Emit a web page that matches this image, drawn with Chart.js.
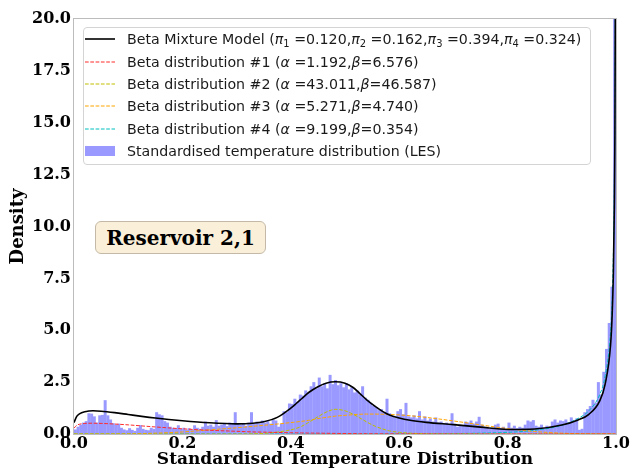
<!DOCTYPE html>
<html lang="en">
<head>
<meta charset="UTF-8">
<title>Beta Mixture Model - Reservoir 2,1</title>
<script src="https://cdn.jsdelivr.net/npm/chart.js"></script>
<style>
    body { margin: 0; background: #fff; }
    .wrap { position: relative; width: 634px; height: 472px; }
    .legend-box {
        position: absolute; left: 83px; top: 27px; width: 508px; height: 138px;
        box-sizing: border-box; border: 1px solid #d4d4d4; border-radius: 4px;
        background: rgba(255,255,255,0.85);
        font-family: "DejaVu Sans"; font-size: 14.2px; color: #1a1a1a;
    }
    .legend-row { display: flex; align-items: center; height: 22.4px; white-space: nowrap; }
    .handle { width: 30px; margin-left: 1px; margin-right: 12px; display: flex; align-items: center; justify-content: center; }
    .sb { font-size: 70%; position: relative; top: 3px; }
    .note {
        position: absolute; left: 95px; top: 221px; width: 171px; height: 33px;
        box-sizing: border-box; border: 1px solid #c4b9a6; border-radius: 6px;
        background: #faefd9; font: bold 20px "DejaVu Serif"; color: #000;
        display: flex; align-items: center; justify-content: center;
    }
</style>
</head>
<body>
<div class="wrap">
    <canvas id="chart" width="634" height="472"></canvas>
    <div id="legend" class="legend-box"></div>
    <div class="note">Reservoir 2,1</div>
</div>

<script>
// histogram: 200 bins of width 0.005 over [0, 1] (density)
const binWidth = 0.005;
const histDensity = [
    0.22, 0.35, 0.45, 0.55, 0.62, 1.00, 0.98, 0.85, 0.55, 0.90,
    0.92, 1.63, 0.90, 0.70, 0.52, 0.45, 0.50, 0.30, 0.22, 0.18,
    0.28, 0.20, 0.15, 0.30, 0.43, 0.25, 0.20, 0.18, 0.30, 0.25,
    1.05, 0.95, 0.90, 0.62, 0.55, 0.35, 0.30, 0.28, 0.42, 0.25,
    0.30, 0.20, 0.28, 0.22, 0.42, 0.30, 0.25, 0.35, 0.60, 0.40,
    0.45, 0.35, 0.67, 0.40, 0.45, 0.50, 0.38, 0.55, 0.48, 1.05,
    0.50, 0.45, 0.52, 0.40, 0.55, 1.05, 0.50, 0.60, 0.52, 0.65,
    0.55, 0.62, 0.50, 0.68, 0.65, 0.35, 0.50, 1.10, 1.05, 1.47,
    1.45, 1.70, 1.55, 1.90, 1.85, 2.10, 2.00, 2.30, 2.50, 2.20,
    2.72, 2.30, 2.45, 2.20, 2.85, 2.40, 2.60, 2.35, 2.45, 2.25,
    2.45, 2.15, 2.25, 2.00, 2.10, 1.90, 2.30, 1.75, 1.65, 1.50,
    1.35, 1.30, 1.15, 1.20, 1.05, 1.70, 1.00, 0.85, 0.80, 1.10,
    1.20, 0.95, 1.50, 0.85, 0.80, 0.90, 0.75, 1.10, 0.70, 0.85,
    0.65, 0.75, 0.60, 0.80, 0.55, 0.60, 0.50, 0.55, 0.45, 1.00,
    0.50, 0.35, 0.45, 0.40, 0.60, 0.55, 0.65, 0.50, 0.60, 0.83,
    0.45, 0.30, 0.35, 0.25, 0.30, 0.45, 0.50, 0.30, 0.35, 0.25,
    0.55, 0.30, 0.40, 0.28, 0.35, 0.30, 0.45, 0.65, 0.60, 0.67,
    0.40, 0.35, 0.45, 0.30, 0.40, 0.35, 0.60, 0.70, 0.55, 0.65,
    0.62, 0.70, 0.55, 0.80, 0.65, 0.75, 0.20, 0.25, 1.05, 1.20,
    1.35, 1.65, 1.50, 2.50, 1.90, 3.00, 4.10, 5.35, 7.10, 40.0
];

// fitted curves at these x positions
const curveX = [
    0, 0.005, 0.01, 0.02, 0.035, 0.05, 0.075, 0.1, 0.125, 0.15,
    0.2, 0.25, 0.3, 0.33, 0.35, 0.375, 0.4, 0.41, 0.42, 0.433,
    0.45, 0.465, 0.482, 0.5, 0.515, 0.527, 0.54, 0.557, 0.57, 0.582,
    0.6, 0.62, 0.65, 0.7, 0.75, 0.8, 0.85, 0.9, 0.93, 0.95,
    0.97, 0.98, 0.99, 0.993, 0.995, 0.997, 0.998, 0.999
];
const mixtureY = [
    0.55, 0.85, 0.97, 1.07, 1.12, 1.10, 1.03, 0.94, 0.85, 0.77,
    0.64, 0.54, 0.49, 0.52, 0.59, 0.80, 1.25, 1.47, 1.70, 2.00,
    2.28, 2.45, 2.52, 2.45, 2.24, 1.96, 1.65, 1.31, 1.08, 0.92,
    0.77, 0.66, 0.56, 0.45, 0.33, 0.22, 0.24, 0.43, 0.68, 0.95,
    1.60, 2.40, 4.30, 5.80, 7.60, 11.0, 14.5, 23.0
];
const beta1Y = [
    0.28, 0.42, 0.47, 0.51, 0.52, 0.51, 0.48, 0.44, 0.39, 0.34,
    0.25, 0.18, 0.13, 0.10, 0.09, 0.075, 0.06, 0.055, 0.05, 0.045,
    0.04, 0.035, 0.028, 0.022, 0.019, 0.016, 0.014, 0.011, 0.01, 0.008,
    0.007, 0.005, 0.004, 0.002, 0, 0, 0, 0, 0, 0,
    0, 0, 0, 0, 0, 0, 0, 0
];
const beta2Y = [
    0, 0, 0, 0, 0, 0, 0, 0, 0, 0,
    0, 0, 0, 0.01, 0.03, 0.09, 0.20, 0.27, 0.37, 0.56,
    0.83, 1.05, 1.19, 1.12, 0.95, 0.78, 0.58, 0.36, 0.24, 0.15,
    0.08, 0.04, 0.01, 0, 0, 0, 0, 0, 0, 0,
    0, 0, 0, 0, 0, 0, 0, 0
];
const beta3Y = [
    0, 0, 0, 0, 0.001, 0.002, 0.005, 0.01, 0.02, 0.04,
    0.10, 0.20, 0.30, 0.37, 0.42, 0.48, 0.55, 0.58, 0.61, 0.66,
    0.74, 0.80, 0.86, 0.90, 0.93, 0.95, 0.96, 0.96, 0.95, 0.94,
    0.92, 0.88, 0.80, 0.63, 0.44, 0.26, 0.12, 0.04, 0.015, 0.006,
    0.001, 0, 0, 0, 0, 0, 0, 0
];
const beta4Y = [
    0, 0, 0, 0, 0, 0, 0, 0, 0, 0,
    0, 0, 0, 0, 0, 0, 0, 0, 0, 0,
    0, 0, 0, 0, 0, 0, 0, 0, 0, 0,
    0, 0.005, 0.01, 0.02, 0.04, 0.08, 0.18, 0.42, 0.75, 1.12,
    1.90, 2.80, 4.90, 6.50, 8.50, 12.2, 16.0, 25.0
];

const xTicks = [0, 0.2, 0.4, 0.6, 0.8, 1.0];
const yTicks = [0, 2.5, 5, 7.5, 10, 12.5, 15, 17.5, 20];

const serifBold = (size) => ({ family: 'DejaVu Serif', weight: 'bold', size: size, lineHeight: 1.2 });

function pts(ys) {
    return curveX.map((x, i) => ({ x: x, y: ys[i] }));
}

function curve(label, ys, color, width, dash) {
    return {
        type: 'line', label: label, data: pts(ys),
        borderColor: color, borderWidth: width, borderDash: dash,
        pointRadius: 0, fill: false, cubicInterpolationMode: 'monotone', order: 1
    };
}

const datasets = [
    curve('Beta Mixture Model', mixtureY, '#000000', 1.6, []),
    curve('Beta distribution #1', beta1Y, '#ff2a2a', 1, [3.7, 1.6]),
    curve('Beta distribution #2', beta2Y, '#bfbf00', 1, [3.7, 1.6]),
    curve('Beta distribution #3', beta3Y, '#ffa500', 1, [3.7, 1.6]),
    curve('Beta distribution #4', beta4Y, '#00bfbf', 1, [3.7, 1.6]),
    {
        type: 'bar', label: 'Standardised temperature distribution (LES)',
        data: histDensity.map((d, i) => ({ x: (i + 0.5) * binWidth, y: d })),
        backgroundColor: '#9999ff', borderWidth: 0,
        barThickness: 3, inflateAmount: 0, order: 2
    }
];

// legend texts (matplotlib mathtext rendered as italic greek + subscripts)
const legendHtml = [
    'Beta Mixture Model (<i>π</i><span class="sb">1</span> =0.120,<i>π</i><span class="sb">2</span> =0.162,<i>π</i><span class="sb">3</span> =0.394,<i>π</i><span class="sb">4</span> =0.324)',
    'Beta distribution #1 (<i>α</i> =1.192,<i>β</i>=6.576)',
    'Beta distribution #2 (<i>α</i> =43.011,<i>β</i>=46.587)',
    'Beta distribution #3 (<i>α</i> =5.271,<i>β</i>=4.740)',
    'Beta distribution #4 (<i>α</i> =9.199,<i>β</i>=0.354)',
    'Standardised temperature distribution (LES)'
];

const legendEl = document.getElementById('legend');
datasets.forEach((ds, i) => {
    let row = document.createElement('div');
    row.className = 'legend-row';
    let handle = document.createElement('div');
    handle.className = 'handle';
    if (ds.type === 'bar') {
        handle.innerHTML = '<div style="width:30px;height:10px;background:' + ds.backgroundColor + '"></div>';
    } else {
        let dash = ds.borderDash.length ? ' stroke-dasharray="' + ds.borderDash.join(' ') + '"' : '';
        handle.innerHTML = '<svg width="30" height="4"><line x1="0" y1="2" x2="30" y2="2" stroke="' +
            ds.borderColor + '" stroke-width="' + ds.borderWidth + '"' + dash + '/></svg>';
    }
    row.appendChild(handle);
    let txt = document.createElement('span');
    txt.innerHTML = legendHtml[i];
    row.appendChild(txt);
    legendEl.appendChild(row);
});

// light grey frame like the axes spines
const framePlugin = {
    id: 'frame',
    beforeDatasetsDraw(chart) {
        const { ctx, chartArea: a } = chart;
        ctx.save();
        ctx.strokeStyle = '#bcbcbc';
        ctx.lineWidth = 1;
        ctx.strokeRect(Math.round(a.left) - 0.5, Math.round(a.top) - 0.5,
            Math.round(a.right - a.left) + 1, Math.round(a.bottom - a.top) + 1);
        ctx.restore();
    }
};

new Chart(document.getElementById('chart'), {
    type: 'bar',
    data: { datasets: datasets },
    plugins: [framePlugin],
    options: {
        responsive: false,
        animation: false,
        devicePixelRatio: 1,
        layout: { padding: { left: 0, top: 19, right: 18, bottom: 2 } },
        plugins: { legend: { display: false }, tooltip: { enabled: false } },
        scales: {
            x: {
                type: 'linear', min: 0, max: 1, offset: false,
                grid: { display: false, drawTicks: false },
                border: { display: false },
                afterBuildTicks: s => { s.ticks = xTicks.map(v => ({ value: v })); },
                afterFit: s => { s.height = 36; },
                ticks: {
                    padding: 0, color: '#000', maxRotation: 0, autoSkip: false,
                    font: serifBold(16),
                    callback: v => Number(v).toFixed(1)
                },
                title: {
                    display: true, text: 'Standardised Temperature Distribution',
                    color: '#000', font: serifBold(17), padding: { top: 0, bottom: 0 }
                }
            },
            y: {
                min: 0, max: 20,
                grid: { display: false, drawTicks: false },
                border: { display: false },
                afterBuildTicks: s => { s.ticks = yTicks.map(v => ({ value: v })); },
                afterFit: s => { s.width = 74; },
                ticks: {
                    padding: 3, color: '#000', autoSkip: false,
                    font: serifBold(16),
                    callback: v => Number(v).toFixed(1)
                },
                title: {
                    display: true, text: 'Density',
                    color: '#000', font: serifBold(18), padding: { top: 8, bottom: 0 }
                }
            }
        }
    }
});
</script>
</body>
</html>
